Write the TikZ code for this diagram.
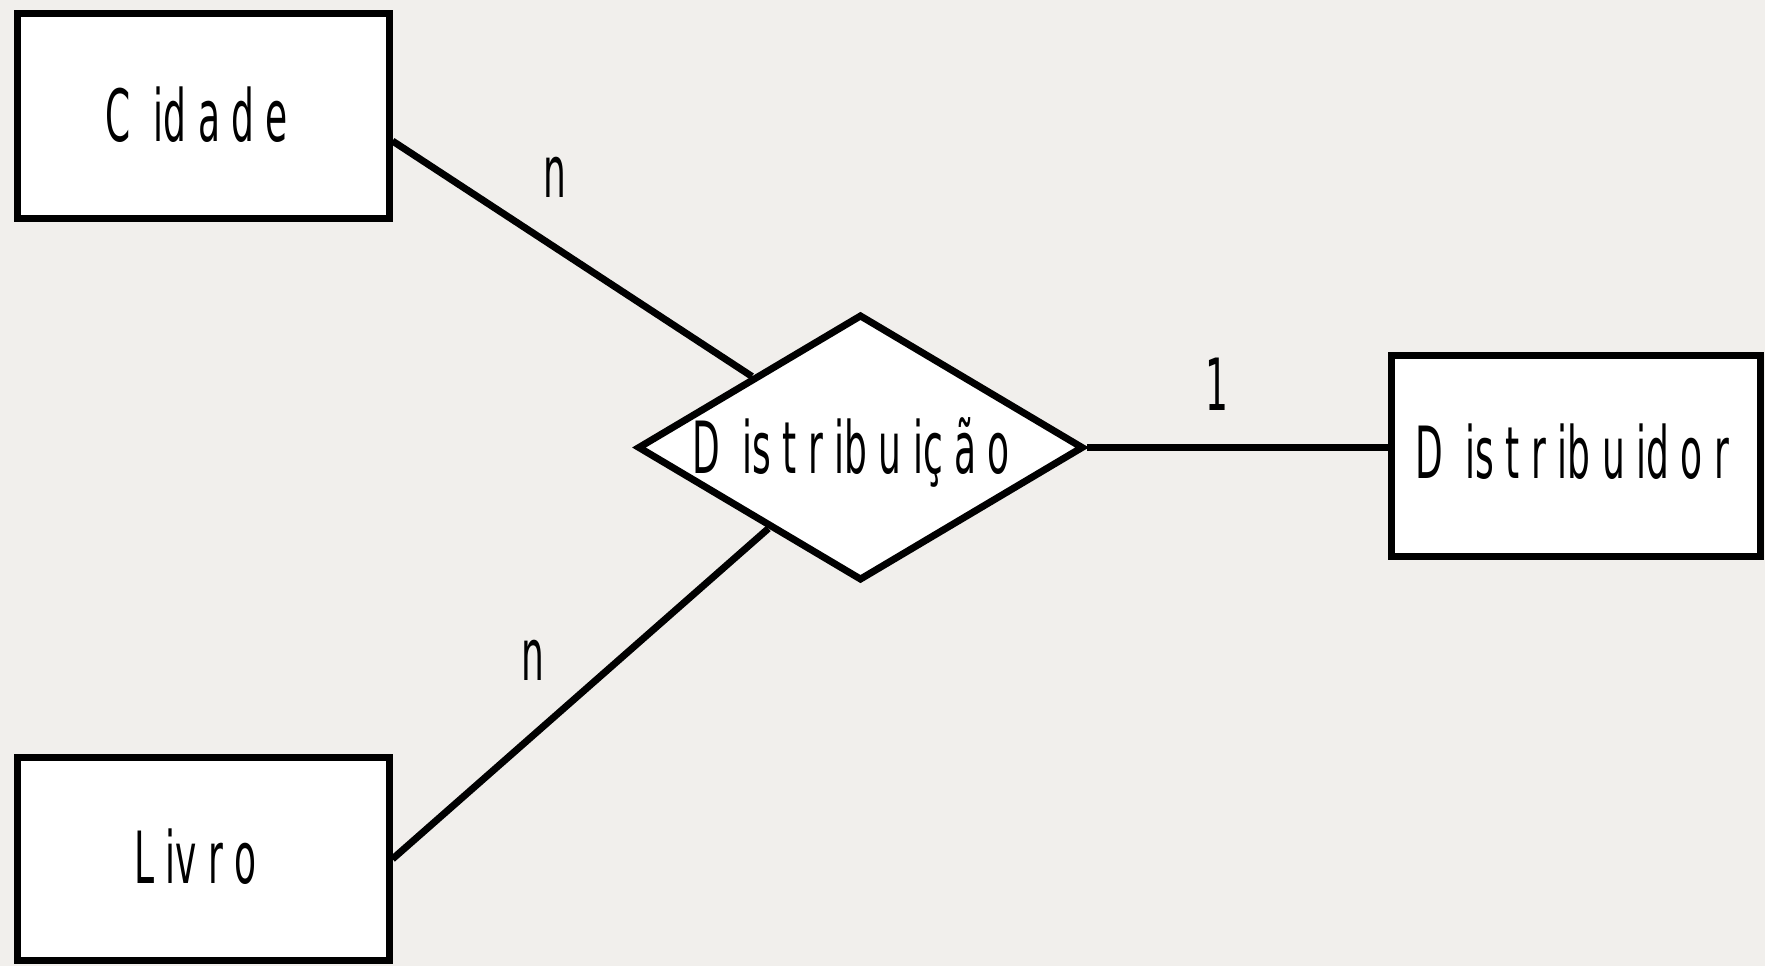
\documentclass[tikz,border=0pt]{standalone}
\usepackage{fontspec}
\usetikzlibrary{shapes.geometric,calc}
\newfontfamily\erfont[FakeStretch=0.5]{DejaVu Sans}
\definecolor{bgcol}{RGB}{241,239,236}
\pgfdeclarelayer{back}
\pgfsetlayers{back,main}
\tikzset{
  entity/.style={draw=black, fill=white, line width=7pt, rectangle, inner sep=0pt},
  relation/.style={draw=black, fill=white, line width=7pt, diamond, inner sep=0pt,
     minimum width=446pt, minimum height=266pt, line join=miter},
  conn/.style={draw=black, line width=7pt},
  lbl/.style={font=\erfont\fontsize{72}{80}\selectfont, anchor=base, inner sep=0pt, text=black}
}
\begin{document}
\begin{tikzpicture}[x=1pt,y=-1pt]
\useasboundingbox (0,0) rectangle (1765,966);
% entities
\node[entity, minimum width=372pt, minimum height=204pt] (cidade) at (203,116) {};
\node[entity, minimum width=372pt, minimum height=203pt] (livro) at (203,859) {};
\node[entity, minimum width=369pt, minimum height=201pt] (distribuidor) at (1575.5,455.5) {};
% relation
\node[relation] (rel) at (860.5,447.5) {};
% connectors
\begin{pgfonlayer}{back}
\fill[bgcol] (0,0) rectangle (1765,966);
\draw[conn] ($(cidade.east)+(0,25)$) -- (rel);
\draw[conn] (livro.east) -- (rel);
\draw[conn] (rel.east) -- (rel.east -| distribuidor.west);
\end{pgfonlayer}
% texts
\node[lbl] (tcid) at (197,141) {C\ \ id\ a\ d\ e};
\node[lbl] (tliv) at (195.5,883) {L\ iv\ r\ o};
\node[lbl] (tdist) at (1572,478) {D\ \ is\ t\ r\ ib\ u\ id\ o\ r};
\node[lbl] (trel) at (851,473) {D\ \ is\ t\ r\ ib\ u\ iç\ ã\ o};
\node[lbl] (n1) at (555,197) {n};
\node[lbl] (n2) at (533,680) {n};
\node[lbl] (one) at (1217,410) {1};
\end{tikzpicture}
\end{document}
